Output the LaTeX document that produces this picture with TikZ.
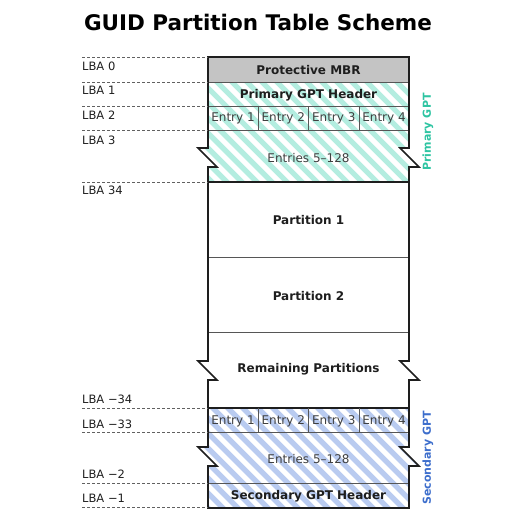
\documentclass[tikz,border=0pt]{standalone}
\usepackage{fontspec}
\setmainfont{DejaVu Sans}
\definecolor{tealstripe}{HTML}{B4EDE0}
\definecolor{bluestripe}{HTML}{B9CBF0}
\definecolor{tealtext}{HTML}{2EC4A2}
\definecolor{bluetext}{HTML}{3D6ECC}
\definecolor{mbrgray}{HTML}{C4C4C4}
\definecolor{ink}{HTML}{1E1E1E}
\tikzset{
  outline/.style={draw=ink, line width=1.6pt, line join=miter},
  inner/.style={draw=ink!75, line width=0.9pt},
  dashline/.style={draw=ink!70, line width=0.8pt, dash pattern=on 3pt off 2pt},
  lbl/.style={font=\fontsize{11.5}{13}\selectfont, text=ink, inner sep=0pt},
  boldlbl/.style={font=\fontsize{12}{14}\selectfont\bfseries, text=ink, inner sep=0pt},
  entrylbl/.style={font=\fontsize{12}{14}\selectfont, text=ink!85, inner sep=0pt},
  sidelbl/.style={font=\fontsize{11}{13}\selectfont\bfseries, rotate=90, inner sep=0pt},
}
\newcommand{\stripes}[1]{%
  \foreach \k in {-24,...,26} {\draw[#1, line width=5.3pt] (\k*15,0) -- ++(520,520);}%
}
\begin{document}
\begin{tikzpicture}[x=1pt,y=-1pt]
\useasboundingbox (0,0) rectangle (524,515);

% title
\node[font=\fontsize{21.5}{24}\selectfont\bfseries, text=black, inner sep=0pt] (title) at (258,22) {GUID Partition Table Scheme};

% Protective MBR
\fill[mbrgray] (208,57) rectangle (409,82);

% Primary GPT region
\begin{scope}
  \clip (208,82) -- (409,82) -- (409,148) -- (400,148) -- (419,167) -- (409,167) -- (409,182)
        -- (208,182) -- (208,167) -- (217,167) -- (198,148) -- (208,148) -- cycle;
  \fill[white] (180,80) rectangle (430,185);
  \stripes{tealstripe}
\end{scope}

% Secondary GPT region
\begin{scope}
  \clip (208,408) -- (409,408) -- (409,447) -- (400,447) -- (419,466) -- (409,466) -- (409,508)
        -- (208,508) -- (208,466) -- (217,466) -- (198,447) -- (208,447) -- cycle;
  \fill[white] (180,405) rectangle (430,510);
  \stripes{bluestripe}
\end{scope}

% inner lines
\draw[inner] (208,82) -- (409,82);
\draw[inner] (208,106) -- (409,106);
\draw[inner] (208,130) -- (409,130);
\draw[inner] (258,106) -- (258,130);
\draw[inner] (308.5,106) -- (308.5,130);
\draw[inner] (359,106) -- (359,130);
\draw[outline] (208,182) -- (409,182);
\draw[inner] (208,257) -- (409,257);
\draw[inner] (208,332) -- (409,332);
\draw[outline] (208,408) -- (409,408);
\draw[inner] (208,432) -- (409,432);
\draw[inner] (258,408) -- (258,432);
\draw[inner] (308.5,408) -- (308.5,432);
\draw[inner] (359,408) -- (359,432);
\draw[inner] (208,483) -- (409,483);

% outer outline
\draw[outline]
  (208,57) -- (409,57)
  -- (409,148) -- (400,148) -- (419,167) -- (409,167)
  -- (409,361) -- (400,361) -- (419,380) -- (409,380)
  -- (409,447) -- (400,447) -- (419,466) -- (409,466)
  -- (409,508) -- (208,508)
  -- (208,466) -- (217,466) -- (198,447) -- (208,447)
  -- (208,380) -- (217,380) -- (198,361) -- (208,361)
  -- (208,167) -- (217,167) -- (198,148) -- (208,148)
  -- cycle;

% block labels
\node[boldlbl] (mbr) at (308.5,70) {Protective MBR};
\node[boldlbl] (hdr) at (308.5,95) {Primary GPT Header};
\node[entrylbl] (e1) at (233,118.5) {Entry 1};
\node[entrylbl] (e2) at (283.25,118.5) {Entry 2};
\node[entrylbl] (e3) at (333.75,118.5) {Entry 3};
\node[entrylbl] (e4) at (384,118.5) {Entry 4};
\node[entrylbl] (ent) at (308.5,158) {Entries 5–128};
\node[boldlbl] (p1) at (308.5,220) {Partition 1};
\node[boldlbl] (p2) at (308.5,296) {Partition 2};
\node[boldlbl] (rem) at (308.5,369) {Remaining Partitions};
\node[entrylbl] (se1) at (233,421) {Entry 1};
\node[entrylbl] (se2) at (283.25,421) {Entry 2};
\node[entrylbl] (se3) at (333.75,421) {Entry 3};
\node[entrylbl] (se4) at (384,421) {Entry 4};
\node[entrylbl] (sent) at (308.5,459) {Entries 5–128};
\node[boldlbl] (shdr) at (308.5,496) {Secondary GPT Header};

% side labels
\node[sidelbl, text=tealtext] (pgpt) at (428,132) {Primary GPT};
\node[sidelbl, text=bluetext] (sgpt) at (428,458) {Secondary GPT};

% dashed LBA lines
\foreach \y in {57,82,106,130,182,408,432,483,507} {\draw[dashline] (82,\y) -- (208,\y);}

% LBA labels
\node[lbl, anchor=west] (l0) at (82,66) {LBA 0};
\node[lbl, anchor=west] (l1) at (82,90) {LBA 1};
\node[lbl, anchor=west] (l2) at (82,115) {LBA 2};
\node[lbl, anchor=west] (l3) at (82,140) {LBA 3};
\node[lbl, anchor=west] (l34) at (82,190) {LBA 34};
\node[lbl, anchor=west] (lm34) at (82,399) {LBA −34};
\node[lbl, anchor=west] (lm33) at (82,424) {LBA −33};
\node[lbl, anchor=west] (lm2) at (82,474) {LBA −2};
\node[lbl, anchor=west] (lm1) at (82,498) {LBA −1};
\end{tikzpicture}
\end{document}
